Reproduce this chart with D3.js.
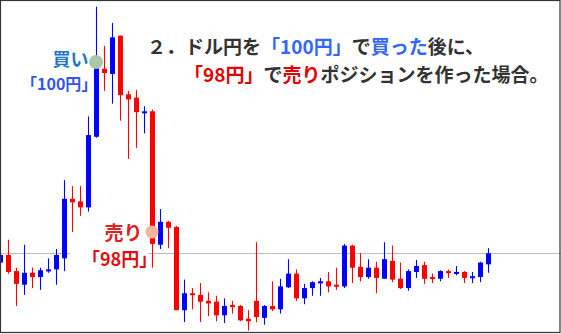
<!DOCTYPE html>
<html>
<head>
<meta charset="utf-8">
<script src="https://cdn.jsdelivr.net/npm/d3@7/dist/d3.min.js"></script>
<style>
  html, body { margin: 0; padding: 0; background: #fff; }
  svg { display: block; }
  text { font-family: "Noto Sans CJK JP", "Noto Sans", sans-serif; font-weight: 700; }
</style>
</head>
<body>
<div id="chart"></div>
<script>
// USD/JPY candles
const opens = [97.64, 97.73, 97.54, 97.38, 97.52, 97.47, 97.54, 97.56, 97.69, 98.39,
  98.36, 98.29, 99.12, 99.92, 99.86, 100.31, 99.62, 99.58, 99.41, 99.42,
  97.85, 98.12, 98.06, 97.08, 97.28, 97.26, 97.19, 97.18, 97.02, 97.14,
  97.13, 96.98, 97.19, 96.99, 97.13, 97.09, 97.35, 97.51, 97.22, 97.34,
  97.40, 97.42, 97.38, 97.36, 97.84, 97.59, 97.47, 97.58, 97.45, 97.66,
  97.45, 97.34, 97.53, 97.61, 97.47, 97.45, 97.54, 97.52, 97.53, 97.46,
  97.47, 97.62];
const highs = [97.74, 97.91, 97.58, 97.85, 97.58, 97.58, 97.69, 97.80, 98.61, 98.54,
  98.54, 99.36, 100.65, 100.19, 100.46, 100.31, 99.66, 99.67, 99.48, 99.44,
  98.27, 98.13, 98.07, 97.44, 97.34, 97.40, 97.29, 97.25, 97.22, 97.19,
  97.14, 97.08, 97.88, 97.14, 97.42, 97.45, 97.68, 97.56, 97.39, 97.42,
  97.46, 97.53, 97.58, 97.86, 97.85, 97.75, 97.68, 97.65, 97.88, 97.84,
  97.64, 97.56, 97.67, 97.65, 97.51, 97.55, 97.56, 97.60, 97.54, 97.53,
  97.65, 97.81];
const lows = [97.62, 97.51, 97.13, 97.26, 97.34, 97.32, 97.52, 97.38, 97.54, 98.00,
  98.19, 98.24, 99.11, 99.66, 99.51, 99.31, 98.86, 98.99, 99.16, 97.58,
  97.80, 97.81, 97.08, 96.94, 97.09, 96.94, 97.01, 96.95, 96.93, 97.04,
  96.95, 96.84, 96.94, 96.91, 97.07, 97.04, 97.34, 97.19, 97.15, 97.25,
  97.25, 97.29, 97.32, 97.34, 97.40, 97.42, 97.45, 97.28, 97.45, 97.41,
  97.33, 97.31, 97.46, 97.39, 97.40, 97.42, 97.46, 97.49, 97.40, 97.40,
  97.41, 97.52];
const closes = [97.73, 97.53, 97.39, 97.52, 97.47, 97.55, 97.56, 97.73, 98.39, 98.35,
  98.29, 99.14, 99.93, 99.87, 100.29, 99.61, 99.56, 99.41, 99.42, 97.86,
  98.12, 98.05, 97.08, 97.28, 97.26, 97.18, 97.16, 97.02, 97.13, 97.12,
  96.96, 96.95, 97.00, 97.13, 97.09, 97.36, 97.51, 97.22, 97.34, 97.41,
  97.42, 97.36, 97.36, 97.84, 97.58, 97.47, 97.58, 97.46, 97.68, 97.44,
  97.34, 97.54, 97.60, 97.45, 97.45, 97.54, 97.52, 97.53, 97.46, 97.48,
  97.64, 97.75];

const buyPrice = 100;
const buyIndex = 12;
const sellPrice = 98;
const sellIndex = 19;

const titleLine1 = [
  { text: "２．ドル円を", color: "#333333" },
  { text: "「100円」", color: "#3366ff" },
  { text: "で", color: "#333333" },
  { text: "買った", color: "#3366ff" },
  { text: "後に、", color: "#333333" }
];
const titleLine2 = [
  { text: "「98円」", color: "#e60000" },
  { text: "で", color: "#333333" },
  { text: "売り", color: "#e60000" },
  { text: "ポジションを作った場合。", color: "#333333" }
];

const width = 561;
const height = 334;
const up = "#0000ff";
const down = "#ff0000";

const candles = opens.map((o, i) => ({ i, o, h: highs[i], l: lows[i], c: closes[i] }));

const svg = d3.select("#chart")
  .append("svg")
  .attr("width", width)
  .attr("height", height);

const x = d3.scaleBand()
  .domain(d3.range(candles.length))
  .range([-3.5, -3.5 + 8 * candles.length])
  .paddingInner(0.375)
  .paddingOuter(0.1875);

const y = d3.scaleLinear()
  .domain([sellPrice, buyPrice])
  .range([232, 62]);

const cx = (i) => x(i) + x.bandwidth() / 2;

// current price line
const last = closes[closes.length - 1];
svg.append("line")
  .attr("x1", 0)
  .attr("x2", width)
  .attr("y1", Math.round(y(last)) + 0.5)
  .attr("y2", Math.round(y(last)) + 0.5)
  .attr("stroke", "#bdbdbd")
  .attr("stroke-width", 1.2);

const g = svg.append("g").attr("class", "candles");

const candle = g.selectAll("g")
  .data(candles)
  .join("g")
  .attr("fill", (d) => d.c >= d.o ? up : down)
  .attr("stroke", (d) => d.c >= d.o ? up : down);

candle.append("line")
  .attr("x1", (d) => cx(d.i))
  .attr("x2", (d) => cx(d.i))
  .attr("y1", (d) => y(d.h))
  .attr("y2", (d) => y(d.l))
  .attr("stroke-width", 1.1);

candle.append("rect")
  .attr("x", (d) => x(d.i))
  .attr("width", x.bandwidth())
  .attr("y", (d) => y(Math.max(d.o, d.c)))
  .attr("height", (d) => Math.max(2, Math.abs(y(d.o) - y(d.c))))
  .attr("stroke", "none");

// buy marker
svg.append("circle")
  .attr("cx", cx(buyIndex) - 0.5)
  .attr("cy", y(buyPrice))
  .attr("r", 7)
  .attr("fill", "#a9c8a3");

svg.append("text")
  .attr("x", cx(buyIndex) - 8)
  .attr("y", y(buyPrice) + 4)
  .attr("text-anchor", "end")
  .attr("font-size", 18)
  .attr("fill", "#1f78c4")
  .text("買い");

svg.append("text")
  .attr("x", 21)
  .attr("y", y(buyPrice) + 28)
  .attr("font-size", 16)
  .attr("fill", "#3355ee")
  .text("「100円」");

// sell marker
svg.append("rect")
  .attr("x", 70)
  .attr("y", y(sellPrice) + 12)
  .attr("width", 78)
  .attr("height", 26)
  .attr("fill", "#fff");

svg.append("circle")
  .attr("cx", cx(sellIndex) - 0.5)
  .attr("cy", y(sellPrice))
  .attr("r", 6.5)
  .attr("fill", "#f5b598");

svg.append("text")
  .attr("x", cx(sellIndex) - 10)
  .attr("y", y(sellPrice) + 8)
  .attr("text-anchor", "end")
  .attr("font-size", 19)
  .attr("fill", "#dd2222")
  .text("売り");

svg.append("text")
  .attr("x", 82)
  .attr("y", y(sellPrice) + 34)
  .attr("font-size", 18)
  .attr("fill", "#e01010")
  .text("「98円」");

// title
function titleLine(parts, tx, ty) {
  const t = svg.append("text")
    .attr("x", tx)
    .attr("y", ty)
    .attr("font-size", 19);
  t.selectAll("tspan")
    .data(parts)
    .join("tspan")
    .attr("fill", (d) => d.color)
    .text((d) => d.text);
}

titleLine(titleLine1, 147, 54);
titleLine(titleLine2, 184, 82);

// frame
svg.append("rect")
  .attr("x", 0.5)
  .attr("y", 0.5)
  .attr("width", width - 1.5)
  .attr("height", height - 2)
  .attr("fill", "none")
  .attr("stroke", "#333")
  .attr("stroke-width", 1.2);
</script>
</body>
</html>
